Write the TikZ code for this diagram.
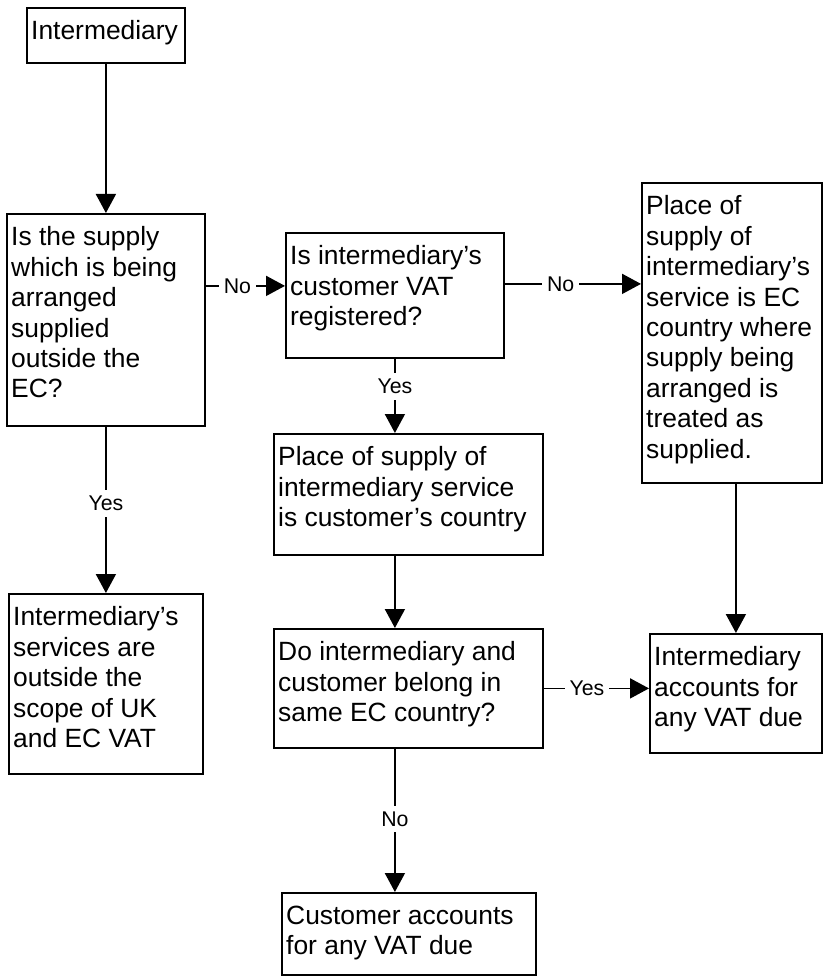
\documentclass[tikz,border=0pt]{standalone}
\usepackage{fontspec}
\setmainfont{Liberation Sans}
\usepackage{tikz}
\usetikzlibrary{arrows.meta,calc}
\tikzset{
  boxline/.style={draw,line width=1.8pt,inner sep=0pt,anchor=north west},
  boxtext/.style={anchor=north west,align=left,inner xsep=5pt,inner ysep=13.5pt,
    font=\fontsize{26.4}{30.4}\selectfont},
  arr/.style={line width=1.8pt,-{Triangle[length=19pt,width=20pt]}},
  lbl/.style={fill=white,inner xsep=5pt,inner ysep=6pt,font=\fontsize{21.3}{24}\selectfont}
}
\newcommand{\flowbox}[6]{%
  \node[boxline,minimum width=#4pt,minimum height=#5pt] (#1) at (#2,#3) {};
  \node[boxtext] (#1-txt) at (#1.north west) {#6};}

\begin{document}
\begin{tikzpicture}[x=1pt,y=-1pt]
  \useasboundingbox (0,0) rectangle (823,976);
  % Boxes: name, left, top, width, height
  \flowbox{a}{26}{7}{158}{55}{Intermediary}
  \flowbox{b}{6}{213}{198}{212}{Is the supply\\which is being\\arranged\\supplied\\outside the\\EC?}
  \flowbox{c}{285}{232}{218}{125}{Is intermediary’s\\customer VAT\\registered?}
  \flowbox{d}{641}{182}{180}{300}{Place of\\supply of\\intermediary’s\\service is EC\\country where\\supply being\\arranged is\\treated as\\supplied.}
  \flowbox{e}{273}{433}{269}{121}{Place of supply of\\intermediary service\\is customer’s country}
  \flowbox{f}{8}{593}{194}{180}{Intermediary’s\\services are\\outside the\\scope of UK\\and EC VAT}
  \flowbox{g}{273}{628}{269}{119}{Do intermediary and\\customer belong in\\same EC country?}
  \flowbox{h}{649}{633}{172}{119}{Intermediary\\accounts for\\any VAT due}
  \flowbox{i}{281}{892}{254}{82}{Customer accounts\\for any VAT due}
  % Connectors
  \coordinate (cin) at ([yshift=9.5pt]c.west);
  \coordinate (cout) at ([yshift=11.5pt]c.east);
  \draw[arr] (a.south) -- (b.north);
  \draw[arr] (b.south) -- node[lbl,pos=0.46] {Yes} (f.north);
  \draw[arr] (cin -| b.east) -- node[lbl,pos=0.4] {No} (cin);
  \draw[arr] (cout) -- node[lbl,pos=0.41] {No} (cout -| d.west);
  \draw[arr] (c.south) -- node[lbl,pos=0.37] {Yes} (c.south |- e.north);
  \draw[arr] (c.south |- e.south) -- (c.south |- g.north);
  \draw[arr] (g.east) -- node[lbl,pos=0.41] {Yes} (g.east -| h.west);
  \draw[arr] (c.south |- g.south) -- node[lbl,pos=0.49] {No} (c.south |- i.north);
  \draw[arr] (h.north |- d.south) -- (h.north);
\end{tikzpicture}
\end{document}
